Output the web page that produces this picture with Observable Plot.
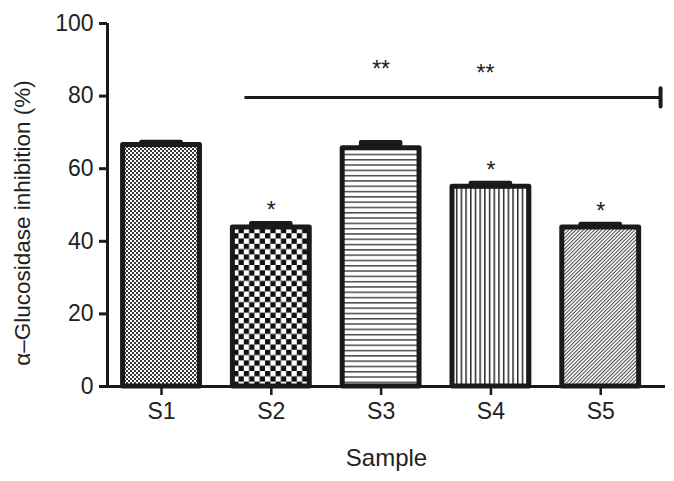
<!DOCTYPE html>
<html><head><meta charset="utf-8">
<script src="https://cdn.jsdelivr.net/npm/d3@7"></script>
<script src="https://cdn.jsdelivr.net/npm/@observablehq/plot@0.6"></script>
<style>body{margin:0;background:#fff} #chart svg{display:block}</style>
</head><body><div id="chart"></div>
<script>
// ---- data ----
const samples = ["S1", "S2", "S3", "S4", "S5"];
const inhibition = [66.5, 43.8, 65.6, 55.0, 43.8];   // mean α-glucosidase inhibition (%)
const errors = [0.8, 1.1, 1.6, 1.0, 0.9];            // upper error (SD)
const patternIds = ["fineCheck", "coarseCheck", "hLines", "vLines", "diagLines"];
const starLabels = ["", "*", "", "*", "*"];
const yTicks = [0, 20, 40, 60, 80, 100];
const bracketFrom = [1.76];      // in sample-index units
const bracketTo = [5.545];
const bracketLevel = [79.6];
const bracketStarLabels = ["**", "**"];
const bracketStarX = [3.0, 3.95];
const bracketStarY = [89.2, 88.1];

const data = samples.map((s, i) => ({
  s, x: i + 1, v: inhibition[i], e: errors[i],
  fill: `url(#${patternIds[i]})`, star: starLabels[i]
}));
const bracket = bracketFrom.map((f, i) => ({f, t: bracketTo[i], y: bracketLevel[i]}));
const bstars = bracketStarLabels.map((l, i) => ({l, x: bracketStarX[i], y: bracketStarY[i]}));

const ink = "#1a1a1a";
const halfBar = 0.35, halfCap = 0.18, xMin = 0.508, xMax = 5.59;

const chart = Plot.plot({
  width: 674, height: 481,
  marginLeft: 107, marginRight: 9, marginTop: 23, marginBottom: 95,
  style: {fontFamily: "'Liberation Sans', Arial, Helvetica, sans-serif", fontSize: "23px", color: "#222", background: "#fff"},
  x: {domain: [xMin, xMax]},
  y: {domain: [0, 100]},
  color: {type: "identity"},
  marks: [
    Plot.rectY(data, {x1: d => d.x - halfBar, x2: d => d.x + halfBar, y1: d => 0, y2: "v",
      fill: "fill", stroke: ink, strokeWidth: 5, strokeLinejoin: "round"}),
    Plot.rectY(data, {x1: d => d.x - halfCap, x2: d => d.x + halfCap, y1: "v", y2: d => d.v + d.e,
      fill: ink, stroke: ink, strokeWidth: 4, strokeLinejoin: "round"}),
    Plot.ruleY([0], {stroke: ink, strokeWidth: 3}),
    Plot.ruleX([xMin], {stroke: ink, strokeWidth: 3}),
    Plot.axisY({ticks: yTicks, tickSize: 8, tickPadding: 6, stroke: ink, strokeWidth: 3, label: null, fontSize: 23}),
    Plot.axisX({ticks: samples.map((s, i) => i + 1), tickFormat: i => samples[i - 1], tickSize: 9, tickPadding: 7,
      stroke: ink, strokeWidth: 2.5, label: null, fontSize: 23}),
    Plot.text(["Sample"], {frameAnchor: "bottom", dy: 79, fontSize: 24, fill: "#222"}),
    Plot.text(["α–Glucosidase inhibition (%)"], {frameAnchor: "left", textAnchor: "middle", rotate: -90, dx: -85, dy: 18, fontSize: 22.5, fill: "#222"}),
    Plot.text(data.filter(d => d.star), {x: "x", y: d => d.v + d.e + 5.5, text: "star", fontSize: 23, dy: 7, fill: "#222"}),
    Plot.ruleY(bracket, {x1: "f", x2: "t", y: "y", stroke: ink, strokeWidth: 3}),
    Plot.ruleX(bracket, {x: "t", y1: d => d.y - 2.6, y2: d => d.y + 2.4, stroke: ink, strokeWidth: 4, strokeLinecap: "round"}),
    Plot.text(bstars, {x: "x", y: "y", text: "l", fontSize: 23, dy: 7, fill: "#222"})
  ]
});

d3.select(chart).insert("defs", ":first-child").html(`
  <pattern id="fineCheck" patternUnits="userSpaceOnUse" width="4" height="4">
    <rect width="4" height="4" fill="#fff"/>
    <rect width="2" height="2" fill="#3a3a3a"/>
    <rect x="2" y="2" width="2" height="2" fill="#3a3a3a"/>
  </pattern>
  <pattern id="coarseCheck" patternUnits="userSpaceOnUse" width="10.6" height="10.6">
    <rect width="10.6" height="10.6" fill="#fff"/>
    <rect width="5.3" height="5.3" fill="#111"/>
    <rect x="5.3" y="5.3" width="5.3" height="5.3" fill="#111"/>
  </pattern>
  <pattern id="hLines" patternUnits="userSpaceOnUse" width="10" height="5.3">
    <rect width="10" height="5.3" fill="#fff"/>
    <rect y="0" width="10" height="1.5" fill="#4a4a4a"/>
  </pattern>
  <pattern id="vLines" patternUnits="userSpaceOnUse" width="4.7" height="10">
    <rect width="4.7" height="10" fill="#fff"/>
    <rect x="0" width="1.5" height="10" fill="#2a2a2a"/>
  </pattern>
  <pattern id="diagLines" patternUnits="userSpaceOnUse" width="2.6" height="10" patternTransform="rotate(45)">
    <rect width="2.6" height="10" fill="#fff"/>
    <rect x="0" width="1" height="10" fill="#444"/>
  </pattern>
`);

document.getElementById("chart").appendChild(chart);
</script>
</body></html>
